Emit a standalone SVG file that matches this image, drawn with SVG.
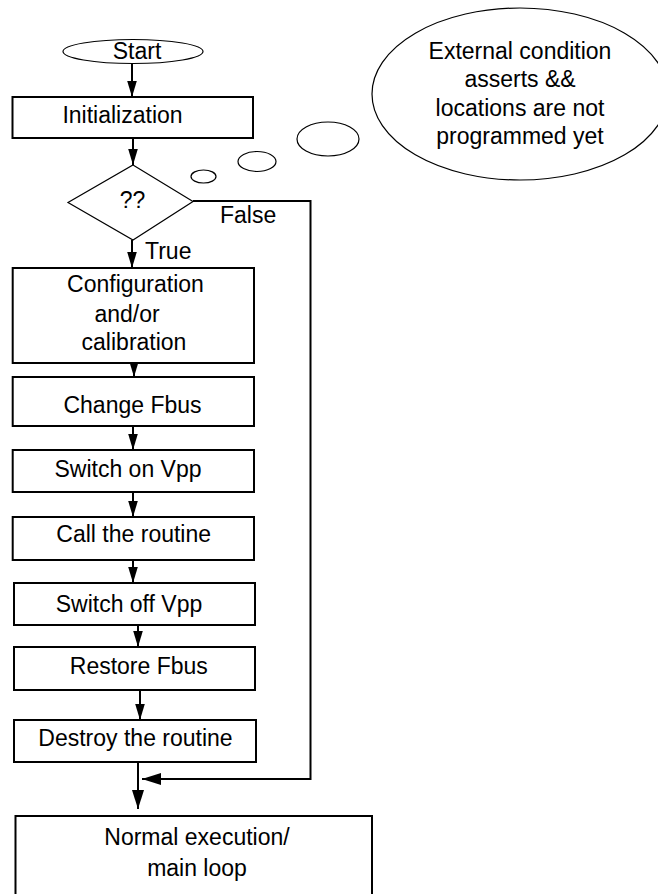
<svg xmlns="http://www.w3.org/2000/svg" width="658" height="894" viewBox="0 0 658 894">
<style>
  text { font-family: "Liberation Sans", Arial, Helvetica, sans-serif; font-size: 23px; fill: #000; }
  .c { text-anchor: middle; }
  .box { fill: #fff; stroke: #000; stroke-width: 2; }
  .thin { fill: #fff; stroke: #000; stroke-width: 1.2; }
  .conn { fill: none; stroke: #000; stroke-width: 2; }
</style>
<defs>
  <marker id="ah" markerUnits="userSpaceOnUse" markerWidth="20" markerHeight="12" viewBox="-17 -6 18 12" refX="0" refY="0" orient="auto">
    <path d="M0,0 L-16,-4.8 L-16,4.8 z" fill="#000"/>
  </marker>
  <marker id="ahL" markerUnits="userSpaceOnUse" markerWidth="22" markerHeight="14" viewBox="-21 -7 22 14" refX="0" refY="0" orient="auto">
    <path d="M0,0 L-19,-6 L-19,6 z" fill="#000"/>
  </marker>
</defs>
<rect x="0" y="0" width="658" height="894" fill="#fff"/>

<g id="thought">
  <ellipse class="thin" cx="520" cy="94" rx="148" ry="86"/>
  <ellipse class="thin" cx="328" cy="139" rx="31" ry="17"/>
  <ellipse class="thin" cx="257" cy="161.5" rx="19" ry="10"/>
  <ellipse class="thin" cx="203.5" cy="176.5" rx="12.5" ry="6.5"/>
  <text class="c" x="520" y="58.5">External condition</text>
  <text class="c" x="520" y="87">asserts &amp;&amp;</text>
  <text class="c" x="520" y="115.5">locations are not</text>
  <text class="c" x="520" y="143.5">programmed yet</text>
</g>

<g id="connectors">
  <line class="conn" x1="132" y1="63.5" x2="132" y2="97" marker-end="url(#ah)"/>
  <line class="conn" x1="133" y1="138" x2="133" y2="165" marker-end="url(#ah)"/>
  <line class="conn" x1="132" y1="240" x2="132" y2="268" marker-end="url(#ah)"/>
  <line class="conn" x1="134" y1="363" x2="134" y2="377" marker-end="url(#ah)"/>
  <line class="conn" x1="133" y1="426" x2="133" y2="450" marker-end="url(#ah)"/>
  <line class="conn" x1="133" y1="492" x2="133" y2="517" marker-end="url(#ah)"/>
  <line class="conn" x1="133" y1="560" x2="133" y2="583" marker-end="url(#ah)"/>
  <line class="conn" x1="138" y1="625" x2="138" y2="647" marker-end="url(#ah)"/>
  <line class="conn" x1="140" y1="690" x2="140" y2="720" marker-end="url(#ah)"/>
  <line class="conn" x1="138" y1="762" x2="138" y2="809" marker-end="url(#ahL)"/>
  <polyline class="conn" points="193,201 310.5,201 310.5,779 142,779" marker-end="url(#ahL)"/>
  <text x="220" y="222.5">False</text>
  <text x="145" y="258.5">True</text>
</g>

<g id="start">
  <ellipse class="thin" cx="133" cy="51.5" rx="70" ry="12"/>
  <text class="c" x="137" y="58.7">Start</text>
</g>

<g id="init">
  <rect class="box" x="12.5" y="97" width="240.5" height="41"/>
  <text class="c" x="122.5" y="123">Initialization</text>
</g>

<g id="decision">
  <polygon class="thin" points="133,165 193,201.5 133,240 68,202.5"/>
  <text class="c" x="132.5" y="208">??</text>
</g>

<g id="config">
  <rect class="box" x="12.7" y="268" width="241.3" height="95"/>
  <text class="c" x="135.5" y="292">Configuration</text>
  <text class="c" x="127" y="321.5">and/or</text>
  <text class="c" x="134" y="350">calibration</text>
</g>

<g id="change-fbus">
  <rect class="box" x="12.7" y="377" width="241.3" height="49"/>
  <text class="c" x="132.5" y="413">Change Fbus</text>
</g>

<g id="switch-on">
  <rect class="box" x="12.7" y="450" width="241.3" height="42"/>
  <text class="c" x="128" y="477">Switch on Vpp</text>
</g>

<g id="call">
  <rect class="box" x="12.7" y="517" width="241.3" height="43"/>
  <text class="c" x="133.7" y="541.5">Call the routine</text>
</g>

<g id="switch-off">
  <rect class="box" x="14" y="583" width="241" height="42"/>
  <text class="c" x="129" y="611.5">Switch off Vpp</text>
</g>

<g id="restore">
  <rect class="box" x="14" y="647" width="241" height="43"/>
  <text class="c" x="138.8" y="673.5">Restore Fbus</text>
</g>

<g id="destroy">
  <rect class="box" x="14" y="720" width="242" height="42"/>
  <text class="c" x="135.5" y="746">Destroy the routine</text>
</g>

<g id="normal">
  <rect class="box" x="15.5" y="816" width="356.5" height="90"/>
  <text class="c" x="197" y="845">Normal execution/</text>
  <text class="c" x="197" y="875.5">main loop</text>
</g>
</svg>
